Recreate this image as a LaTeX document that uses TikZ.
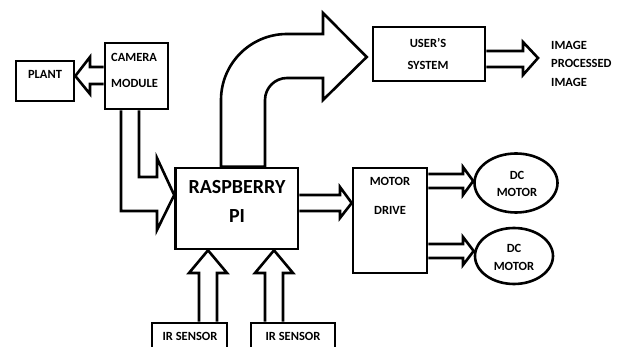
\documentclass[tikz,border=0pt]{standalone}
\usepackage{fontspec}
\setmainfont{Carlito}
\usetikzlibrary{shapes.geometric}
\usetikzlibrary{calc}
\tikzset{box/.style={draw, line width=2.6pt, inner sep=0pt},
 oval/.style={ellipse, draw, line width=2.6pt, inner sep=0pt},
 fat/.style={draw, line width=2.6pt, fill=white},
 lbl/.style={font=\fontsize{12.5}{15}\selectfont\bfseries, inner sep=0pt},
 biglbl/.style={font=\fontsize{20}{24}\selectfont\bfseries, inner sep=0pt},
 }

\begin{document}
\begin{tikzpicture}[x=1pt, y=-1pt]
        \path[use as bounding box] (0,0) rectangle (625,347);
        \clip (0,0) rectangle (625,347);

        \node[box, minimum width=58, minimum height=40] (plant) at (45,81) {};
        \node[box, minimum width=63, minimum height=66] (camera) at (136.5,76) {};
        \node[box, minimum width=122.5, minimum height=81] (pi) at (236.75,208.5) {};
        \node[box, minimum width=74, minimum height=105] (drive) at (390,220.5) {};
        \node[box, minimum width=112, minimum height=54] (users) at (429,54) {};
        \node[oval, minimum width=83, minimum height=59] (motorA) at (516,183) {};
        \node[oval, minimum width=78, minimum height=56] (motorB) at (514,256) {};
        \node[box, minimum width=75, minimum height=40] (irA) at (189.5,343) {};
        \node[box, minimum width=84, minimum height=40] (irB) at (293,343) {};
        \coordinate (imgtip) at (538,58);

        \draw[fat] (camera.west |- 0,67) -- (90,67) -- (90,57) -- (plant.east |- 0,76)
            -- (90,94) -- (90,84) -- (camera.west |- 0,84);
        \draw[fat] (camera.south -| 121,0) -- (121,211) -- (157,211) -- (157,230)
            -- (pi.west |- 0,195) -- (157,158) -- (157,177) -- (139,177) -- (camera.south -| 139,0);
        \draw[fat] (pi.north -| 221,0) -- (221,100) arc[start angle=180, end angle=270, radius=66]
            -- (323,34) -- (323,13) -- ($(users.west |- 0,57)+(-5,0)$) -- (323,100) -- (323,78)
            -- (287,78) arc[start angle=270, end angle=180, radius=22] -- (pi.north -| 265,0) -- cycle;
        \draw[fat] (pi.east |- 0,195) -- (340,195) -- (340,187) -- (drive.west |- 0,203)
            -- (340,218) -- (340,211) -- (pi.east |- 0,211);
        \foreach \m/\y in {motorA/181, motorB/251} {
            \draw[fat] (drive.east |- 0,\y-7) -- (463,\y-7) -- (463,\y-14) -- (\m.west |- 0,\y)
                -- (463,\y+14) -- (463,\y+7) -- (drive.east |- 0,\y+7);
        }
        \draw[fat] (users.east |- 0,51) -- (523,51) -- (523,42) -- (imgtip)
            -- (523,75) -- (523,67) -- (users.east |- 0,67);
        \foreach \s/\x in {irA/208, irB/274} {
            \draw[fat] (\s.north -| \x-9,0) -- (\x-9,273) -- (\x-19,273) -- (pi.south -| \x,0)
                -- (\x+19,273) -- (\x+9,273) -- (\s.north -| \x+9,0);
        }

        \node[lbl] (plantlbl) at (45,74) {PLANT};
        \node[lbl, anchor=west] (camlblA) at (111,57) {CAMERA};
        \node[lbl, anchor=west] (camlblB) at (111,83) {MODULE};
        \node[biglbl] (pilblA) at (237,187) {RASPBERRY};
        \node[biglbl] (pilblB) at (237,216) {PI};
        \node[lbl] (drvlblA) at (390,181) {MOTOR};
        \node[lbl] (drvlblB) at (390,210) {DRIVE};
        \node[lbl] (usrlblA) at (428,43) {USER’S};
        \node[lbl] (usrlblB) at (428,65) {SYSTEM};
        \node[lbl, anchor=west] (imglblA) at (551,45) {IMAGE};
        \node[lbl, anchor=west] (imglblB) at (551,63) {PROCESSED};
        \node[lbl, anchor=west] (imglblC) at (551,82) {IMAGE};
        \node[lbl] (mAlblA) at (517,175) {DC};
        \node[lbl] (mAlblB) at (517,192) {MOTOR};
        \node[lbl] (mBlblA) at (514,248) {DC};
        \node[lbl] (mBlblB) at (514,266) {MOTOR};
        \node[lbl] (irlblA) at (190,336) {IR SENSOR};
        \node[lbl] (irlblB) at (293,336) {IR SENSOR};
\end{tikzpicture}
\end{document}
